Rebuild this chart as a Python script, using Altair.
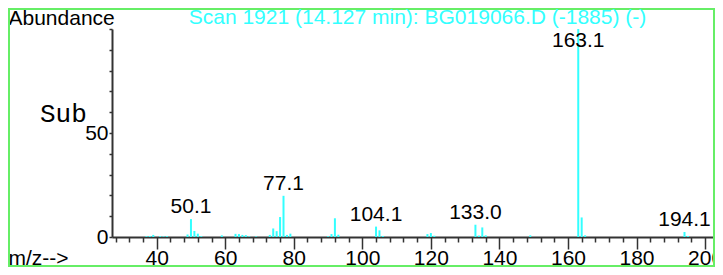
import altair as alt
import pandas as pd

# ---- data ----
mz = [37, 38, 39, 41, 42, 43, 49, 50, 51, 52, 53, 59, 63, 64, 65, 66, 67, 69,
      73, 74, 75, 76, 77, 78, 79, 90, 91, 92, 93, 104, 105, 106, 119, 120, 121,
      133, 134, 135, 136, 149, 163, 164, 165, 194, 195]
abundance = [0.4, 0.5, 1.0, 0.4, 0.3, 0.4, 1.2, 8.6, 2.9, 1.6, 0.4, 0.8, 1.5, 1.4, 1.0, 0.9, 0.3, 0.3,
             1.0, 4.1, 2.8, 9.6, 19.8, 1.0, 1.6, 0.4, 1.4, 9.0, 1.1, 5.0, 3.2, 0.5, 1.4, 1.9, 0.6,
             5.9, 0.7, 4.6, 0.8, 0.8, 100.0, 9.4, 0.8, 2.4, 0.5]

label_mz = [50, 77, 104, 133, 163, 194]
label_abundance = [8.6, 19.8, 5.0, 5.9, 100.0, 2.4]
label_text = ["50.1", "77.1", "104.1", "133.0", "163.1", "194.1"]

x_ticks = list(range(28, 204, 4))
y_ticks = list(range(0, 101, 10))

TITLE = "Scan 1921 (14.127 min): BG019066.D (-1885) (-)"
SUB = "Sub"

CYAN = "#33ffff"
FONT = "Liberation Sans"
W, H = 603, 208
PAD = {"left": 104, "top": 21, "right": 0, "bottom": 30}

peaks = pd.DataFrame({"mz": mz, "abundance": abundance})
labels = pd.DataFrame({"mz": label_mz, "abundance": label_abundance, "text": label_text})

xs = alt.Scale(domain=[26.96, 202.9], nice=False, zero=False)
ys = alt.Scale(domain=[0, 100], nice=False)

x_axis = alt.Axis(
    values=x_ticks,
    labelExpr="datum.value % 20 === 0 ? datum.label : ''",
    tickSize={"condition": {"test": "datum.value % 20 === 0", "value": 12}, "value": 5},
    tickWidth=1.5, tickColor="#333333",
    domainColor="#333333", domainWidth=2,
    labelFont=FONT, labelFontSize=21, labelColor="black", labelPadding=15,
    labelBaseline="alphabetic",
    labelOverlap=False, labelFlush=False,
    grid=False,
    title="m/z-->", titleFont=FONT, titleFontSize=21, titleFontWeight="normal",
    titleColor="black", titleAlign="left", titleBaseline="alphabetic",
    titleX=-104, titleY=27, titleAngle=0,
)
y_axis = alt.Axis(
    values=y_ticks,
    labelExpr="(datum.value === 0 || datum.value === 50) ? datum.label : ''",
    tickSize=3, tickWidth=1.5, tickColor="#333333",
    domainColor="#333333", domainWidth=2,
    labelFont=FONT, labelFontSize=21, labelColor="black", labelPadding=1,
    labelOverlap=False, labelFlush=False,
    grid=False,
    title="Abundance", titleFont=FONT, titleFontSize=21, titleFontWeight="normal",
    titleColor="black", titleAlign="left", titleBaseline="alphabetic",
    titleX=-104, titleY=-5, titleAngle=0,
)

border = alt.Chart(pd.DataFrame({"a": [0]})).mark_rect(
    fill="transparent", stroke="#66ee66", strokeWidth=2
).encode(
    x=alt.value(-103), x2=alt.value(W - 1),
    y=alt.value(-20), y2=alt.value(H + 29),
)

rules = alt.Chart(peaks).mark_rule(color=CYAN, strokeWidth=2).encode(
    x=alt.X("mz:Q", scale=xs, axis=x_axis),
    y=alt.Y("abundance:Q", scale=ys, axis=y_axis),
    y2=alt.datum(0),
)

peak_labels = alt.Chart(labels).transform_calculate(
    pos="min(datum.abundance, 88.5)"
).mark_text(font=FONT, fontSize=21, color="black", align="center",
            baseline="alphabetic", dy=-6).encode(
    x=alt.X("mz:Q", scale=xs, axis=x_axis),
    y=alt.Y("pos:Q", scale=ys, axis=y_axis),
    text="text:N",
)

title_text = alt.Chart(pd.DataFrame({"t": [TITLE]})).mark_text(
    font=FONT, fontSize=21, color=CYAN, align="center", baseline="alphabetic"
).encode(x=alt.value(305.5), y=alt.value(-5), text="t:N")

sub_text = alt.Chart(pd.DataFrame({"t": [SUB]})).mark_text(
    font="Liberation Mono", fontSize=26, color="black", align="left", baseline="alphabetic"
).encode(x=alt.value(-72), y=alt.value(93), text="t:N")

chart = alt.layer(border, rules, peak_labels, title_text, sub_text).properties(
    width=W, height=H, padding=PAD, autosize=alt.AutoSizeParams(type="none")
).configure_view(stroke=None)

chart.save("out.html", embed_options={"renderer": "svg", "actions": False})
